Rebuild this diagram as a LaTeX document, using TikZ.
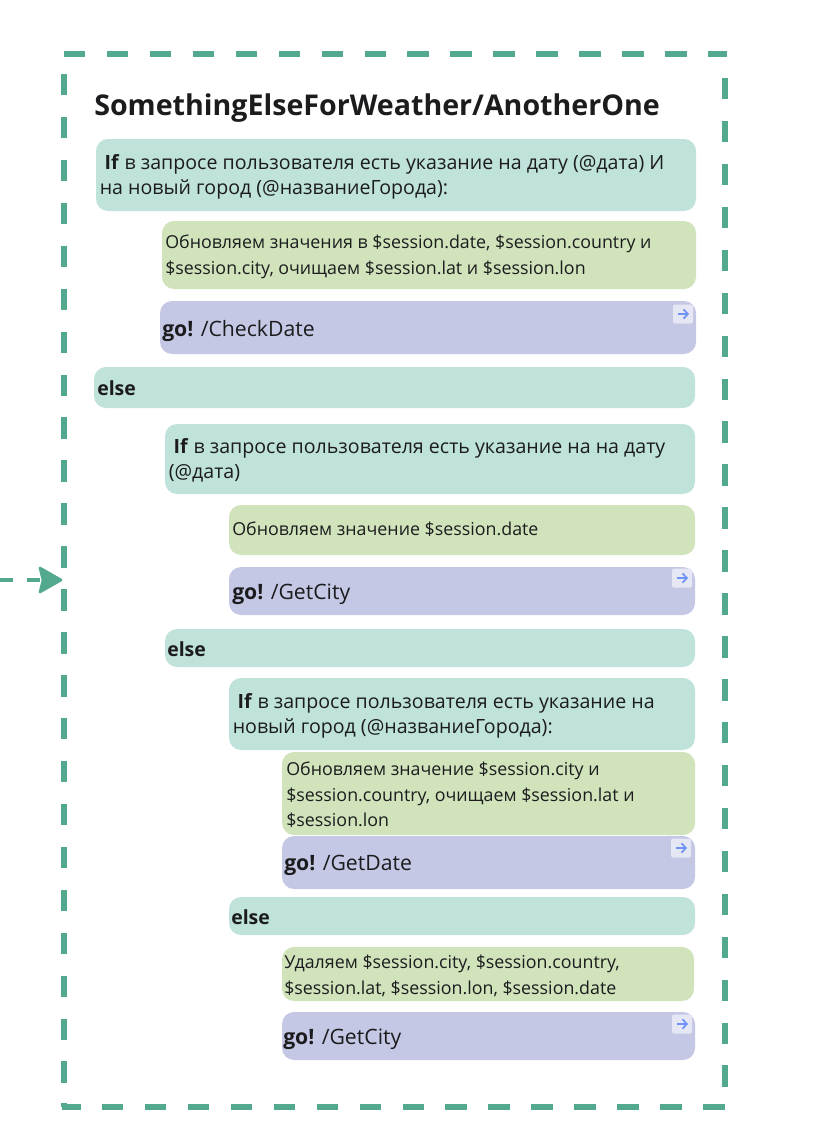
\documentclass[tikz,border=0pt]{standalone}
\usepackage{fontspec}
\setmainfont{Open Sans}
\usetikzlibrary{arrows.meta}
\definecolor{tealbox}{HTML}{BFE2DB}
\definecolor{greenbox}{HTML}{D0E3BB}
\definecolor{violetbox}{HTML}{C5C8E5}
\definecolor{framecol}{HTML}{52A98F}
\definecolor{inkcol}{HTML}{1C1C1E}
\definecolor{iconbg}{HTML}{E6E7F4}
\definecolor{iconfg}{HTML}{6E93F5}
\tikzset{
  x=0.75pt,y=-0.75pt,
  boxbase/.style={rounded corners=9pt,draw=none},
  tealfill/.style={boxbase,fill=tealbox},
  greenfill/.style={boxbase,fill=greenbox},
  violetfill/.style={boxbase,fill=violetbox},
  framedash/.style={draw=framecol,line width=3.9pt,dash pattern=on 16.1pt off 16.1pt},
  bigtxt/.style={anchor=north west,inner sep=0pt,align=left,text=inkcol,font=\fontsize{14.7pt}{18.9pt}\selectfont},
  smalltxt/.style={anchor=north west,inner sep=0pt,align=left,text=inkcol,font=\fontsize{13.37pt}{18.9pt}\selectfont},
  gotxt/.style={anchor=west,inner sep=0pt,align=left,text=inkcol,font=\fontsize{15.9pt}{19pt}\selectfont},
  elsetxt/.style={anchor=west,inner sep=0pt,text=inkcol,font=\fontsize{14.6pt}{18pt}\selectfont\bfseries},
}
\newcommand{\panel}[6]{\path[#6] (#2,#3) rectangle (#4,#5) coordinate (#1);}
\newcommand{\goicon}[2]{%
  \fill[iconbg,rounded corners=1.5pt] (#1-10,#2-9.5) rectangle (#1+10,#2+9.5);
  \draw[iconfg,line width=1.3pt,-{Straight Barb[length=3.2pt,width=7pt]}] (#1-5,#2) -- (#1+6,#2);}
\begin{document}
\begin{tikzpicture}
\useasboundingbox (0,0) rectangle (834,1138);
% frame
\coordinate (tl) at (64,54);
\coordinate (tr) at (727,54);
\coordinate (rt) at (725,78);
\coordinate (rb) at (725,1107);
\coordinate (lt) at (64,74);
\coordinate (lb) at (64,1103);
\coordinate (br) at (725,1107);
\draw[framedash] (tl) -- (tr);
\draw[framedash] (rt) -- (rb);
\draw[framedash] (lt) -- (lb);
\draw[framedash] (102,1107) -- (br);
\draw[draw=framecol,line width=3.9pt] (62,1107) -- (81,1107);
\draw[draw=framecol,line width=3.9pt] (64,1103) -- (64,1107);
% title
\node[anchor=base west,inner sep=0pt,text=inkcol,font=\fontsize{21.45pt}{24pt}\selectfont\bfseries] (title) at (94,115) {SomethingElseForWeather/AnotherOne};
% boxes
\panel{b1}{96}{139}{696}{211}{tealfill}
\panel{b2}{162}{221}{696}{289}{greenfill}
\panel{b3}{160}{301}{696}{354}{violetfill}
\panel{b4}{94}{367}{695}{408}{tealfill}
\panel{b5}{165}{424}{695}{494}{tealfill}
\panel{b6}{229}{505}{695}{555}{greenfill}
\panel{b7}{229}{567}{695}{615}{violetfill}
\panel{b8}{165}{629}{695}{667}{tealfill}
\panel{b9}{229}{678}{695}{750}{tealfill}
\panel{b10}{282}{752}{695}{835}{greenfill}
\panel{b11}{282}{836}{695}{889}{violetfill}
\panel{b12}{229}{897}{695}{935}{tealfill}
\panel{b13}{282}{947}{694}{1001}{greenfill}
\panel{b14}{282}{1012}{695}{1060}{violetfill}
% texts
\node[bigtxt] (t1) at (99.5,154) {\hspace{3.6pt}\textbf{If} в запросе пользователя есть указание на дату (@дата) И\\на новый город (@названиеГорода):};
\node[smalltxt] (t2) at (165,235) {Обновляем значения в \$session.date, \$session.country и\\\$session.city, очищаем \$session.lat и \$session.lon};
\node[gotxt] (t3) at (162,331) {\textbf{go!} /CheckDate};
\node[elsetxt] (t4) at (97,388) {else};
\node[bigtxt] (t5) at (168.5,438) {\hspace{3.6pt}\textbf{If} в запросе пользователя есть указание на на дату\\(@дата)};
\node[smalltxt] (t6) at (232,522) {Обновляем значение \$session.date};
\node[gotxt] (t7) at (232,594) {\textbf{go!} /GetCity};
\node[elsetxt] (t8) at (167,649) {else};
\node[bigtxt] (t9) at (232.5,693) {\hspace{3.6pt}\textbf{If} в запросе пользователя есть указание на\\новый город (@названиеГорода):};
\node[smalltxt] (t10) at (286,762) {Обновляем значение \$session.city и\\\$session.country, очищаем \$session.lat и\\\$session.lon};
\node[gotxt] (t11) at (284,865) {\textbf{go!} /GetDate};
\node[elsetxt] (t12) at (231,917) {else};
\node[smalltxt] (t13) at (284,955) {Удаляем \$session.city, \$session.country,\\\$session.lat, \$session.lon, \$session.date};
\node[gotxt] (t14) at (283,1039) {\textbf{go!} /GetCity};
% icons
\goicon{683}{314}
\goicon{682}{578}
\goicon{681}{848}
\goicon{682}{1024}
% entry arrow
\coordinate (entryS) at (0,580);
\coordinate (entryE) at (42,580);
\draw[draw=framecol,line width=3.4pt,dash pattern=on 9.75pt off 10.5pt] (entryS) -- (entryE);
\fill[framecol,draw=framecol,line width=2pt,line join=round] (40,568) -- (61,580) -- (40,592) -- (43,580) -- cycle;
\end{tikzpicture}
\end{document}
